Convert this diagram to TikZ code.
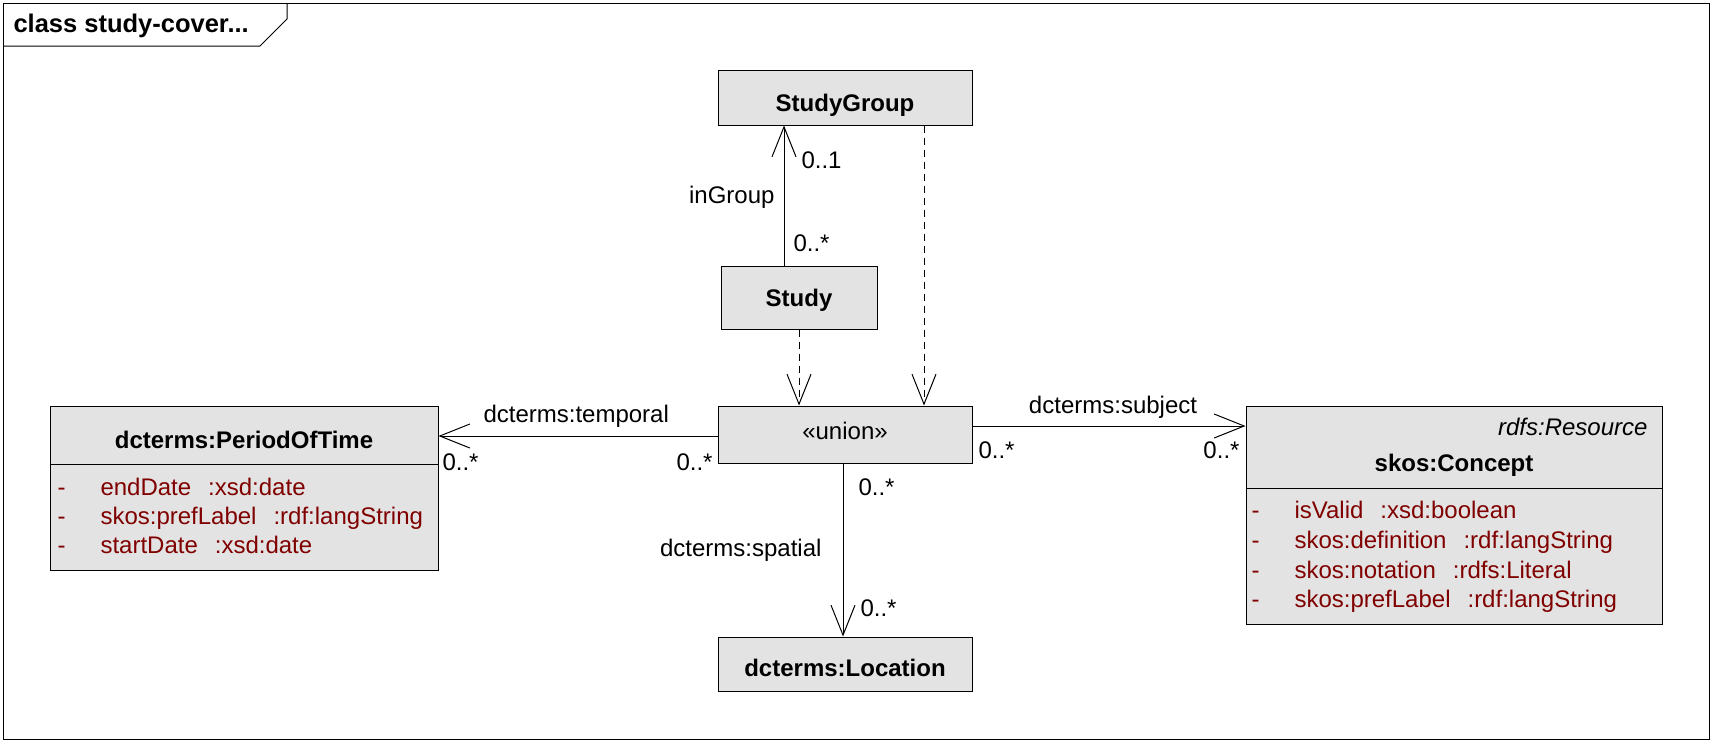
\documentclass[tikz,border=0pt]{standalone}
\usepackage{fontspec}
\setmainfont{Liberation Sans}
\usetikzlibrary{arrows.meta}
\definecolor{boxgray}{RGB}{227,227,227}
\definecolor{attrred}{RGB}{128,0,0}
\newcommand\dfont{\fontsize{24}{29}\selectfont}
\newcommand\gapsp{\hspace{17pt}}
\begin{document}
\begin{tikzpicture}[x=1pt,y=-1pt,line width=1pt,
  every node/.style={font=\dfont,inner sep=0pt},
  cls/.style={draw,fill=boxgray,line width=1pt,inner sep=0pt},
  txt/.style={text height=17pt,text depth=0pt},
  ttl/.style={txt,font=\dfont\bfseries},
  lbl/.style={txt,anchor=west},
  lble/.style={txt,anchor=east},
  attr/.style={txt,anchor=west,text=attrred},
  assoc/.style={draw,-{Straight Barb[length=30pt,width=24pt]}},
  dep/.style={draw,dash pattern=on 7pt off 5pt,-{Straight Barb[length=30pt,width=24pt]}}]
\useasboundingbox (0,0) rectangle (1712,742);
% frame
\draw (3,3) rectangle (1709,739);
\draw (3,46) -- (260,46) -- (287,19) -- (287,3);
\node[lbl,font=\fontsize{25.5}{30}\selectfont\bfseries] (ftitle) at (13,24) {class study-cover...};
% boxes
\node[cls,minimum width=254pt,minimum height=55pt] (StudyGroup) at (845,97.5) {};
\node[ttl] (StudyGroupT) at (845,103) {StudyGroup};
\node[cls,minimum width=156pt,minimum height=63pt] (Study) at (799,297.5) {};
\node[ttl] (StudyT) at (799,298) {Study};
\node[cls,minimum width=254pt,minimum height=57pt] (union) at (845,434.5) {};
\node[txt] (unionT) at (845,431) {«union»};
\node[cls,minimum width=254pt,minimum height=54pt] (Location) at (845,664) {};
\node[ttl] (LocationT) at (845,668) {dcterms:Location};
% PeriodOfTime
\node[cls,minimum width=388pt,minimum height=164pt] (Period) at (244,488) {};
\draw (50,464) -- (438,464);
\node[ttl] (PeriodT) at (244,440) {dcterms:PeriodOfTime};
\node[attr] (pd1) at (57,487) {-};
\node[attr] (pa1) at (100,487) {endDate\gapsp:xsd:date};
\node[attr] (pd2) at (57,516) {-};
\node[attr] (pa2) at (100,516) {skos:prefLabel\gapsp:rdf:langString};
\node[attr] (pd3) at (57,545) {-};
\node[attr] (pa3) at (100,545) {startDate\gapsp:xsd:date};
% Concept
\node[cls,minimum width=416pt,minimum height=218pt] (Concept) at (1454,515) {};
\draw (1246,488) -- (1662,488);
\node[txt,anchor=east,font=\dfont\itshape] (ConceptS) at (1648,427) {rdfs:Resource};
\node[ttl] (ConceptT) at (1454,463) {skos:Concept};
\node[attr] (cd1) at (1251,510) {-};
\node[attr] (ca1) at (1294,510) {isValid\gapsp:xsd:boolean};
\node[attr] (cd2) at (1251,540) {-};
\node[attr] (ca2) at (1294,540) {skos:definition\gapsp:rdf:langString};
\node[attr] (cd3) at (1251,570) {-};
\node[attr] (ca3) at (1294,570) {skos:notation\gapsp:rdfs:Literal};
\node[attr] (cd4) at (1251,599) {-};
\node[attr] (ca4) at (1294,599) {skos:prefLabel\gapsp:rdf:langString};
% connectors
\draw[assoc] ([xshift=-15pt]Study.north) -- ([xshift=-15pt]Study.north |- StudyGroup.south);
\draw[dep] (Study.south) -- (Study.south |- union.north);
\draw[dep] ([xshift=79pt]StudyGroup.south) -- ([xshift=79pt]StudyGroup.south |- union.north);
\draw[assoc] ([yshift=-1.5pt]union.west) -- ([yshift=-1.5pt]union.west -| Period.east);
\draw[assoc] ([yshift=8.5pt]union.east) -- ([yshift=8.5pt]union.east -| Concept.west);
\draw[assoc] ([xshift=-2pt]union.south) -- ([xshift=-2pt]union.south |- Location.north);
% labels
\node[lble] (inGroup) at (775,195) {inGroup};
\node[lbl] (m1) at (801,160) {0..1};
\node[lbl] (m2) at (793,243) {0..*};
\node[lbl] (temporal) at (483,414) {dcterms:temporal};
\node[lbl] (m3) at (442,462) {0..*};
\node[lbl] (m4) at (676,462) {0..*};
\node[txt] (subject) at (1113,405) {dcterms:subject};
\node[lbl] (m5) at (978,450) {0..*};
\node[lble] (m6) at (1240,450) {0..*};
\node[lble] (spatial) at (822,548) {dcterms:spatial};
\node[lbl] (m7) at (858,487) {0..*};
\node[lbl] (m8) at (860,608) {0..*};
\end{tikzpicture}
\end{document}
